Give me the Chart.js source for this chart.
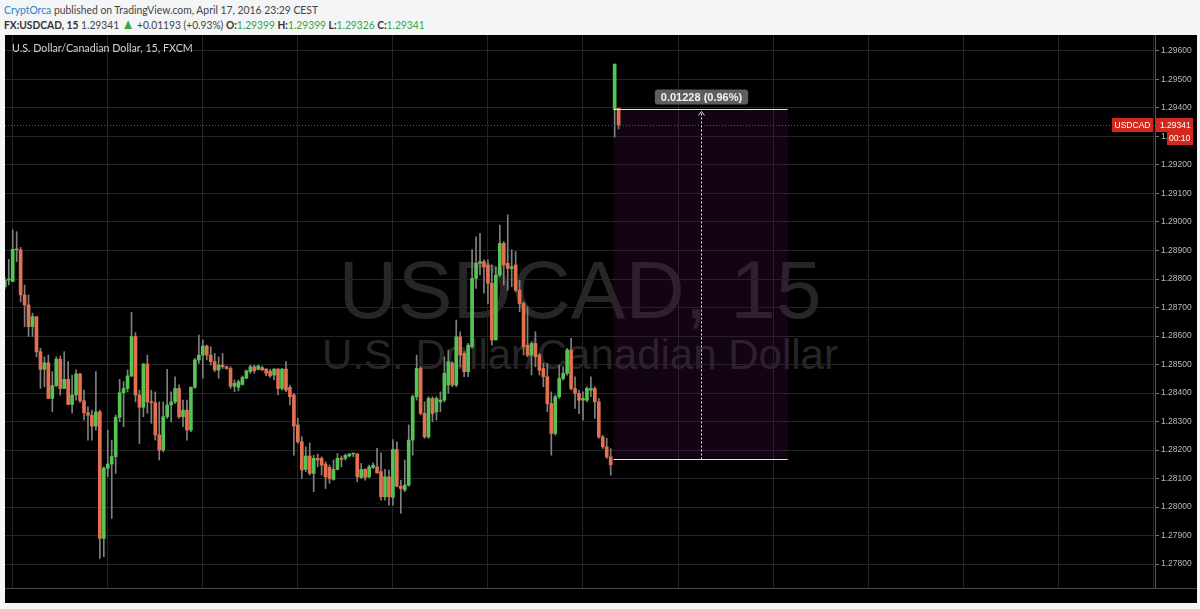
<!DOCTYPE html>
<html>
<head>
<meta charset="utf-8">
<script src="https://cdn.jsdelivr.net/npm/chart.js@4.4.1/dist/chart.umd.min.js"></script>
<style>
  body { margin:0; width:1200px; height:609px; background:#f3f5f6; position:relative; overflow:hidden;
         font-family:Lato, "Liberation Sans", sans-serif; }
  .fit { position:absolute; white-space:nowrap; transform-origin:0 50%; }
  #l1 { left:4px; top:2px; font-size:12px; color:#444; }
  #l2 { left:4px; top:17px; font-size:12px; color:#444; }
  #l1 .user { color:#2a86c6; }
  #l2 b { color:#333; }
  .up { color:#3aa63f; }
  .tri { color:#3aa63f; font-size:15px; line-height:10px; }
  #panel { position:absolute; left:5px; top:35px; width:1192px; height:568px; background:#000; }
  #title { left:7px; top:5px; font-size:12px; color:#d2d2d2; }
  .wm { position:absolute; left:0; width:1150px; text-align:center; font-family:"Liberation Sans", Arial, sans-serif;
        color:#262626; white-space:nowrap; }
  #wm1 { top:214px; font-size:82px; line-height:82px; }
  #wm2 { top:299px; font-size:42px; line-height:42px; }
  canvas { position:absolute; left:0; top:0; }
</style>
</head>
<body>
<div id="l1" class="fit" data-w="314"><span class="user">CryptOrca</span> published on TradingView.com, April 17, 2016 23:29 CEST</div>
<div id="l2" class="fit" data-w="421"></div>
<div id="panel">
  <div id="wm1" class="wm">USDCAD, 15</div>
  <div id="wm2" class="wm">U.S. Dollar/Canadian Dollar</div>
  <canvas id="myChart" width="1192" height="568"></canvas>
  <div id="title" class="fit" data-w="181">U.S. Dollar/Canadian Dollar, 15, FXCM</div>
</div>
<script>
// USDCAD 15 min candles (last two are after the weekend gap)
let OPEN = [
  1.28773,1.28796,1.28791,1.28904,1.28902,1.28744,1.28709,1.28633,1.28668,1.28545,
  1.28483,1.28506,1.28381,1.28426,1.28519,1.28416,1.28448,1.28360,1.28393,1.28467,
  1.28373,1.28331,1.28322,1.28284,1.28334,1.27890,1.28136,1.28151,1.28177,1.28315,
  1.28401,1.28416,1.28460,1.28598,1.28393,1.28350,1.28502,1.28369,1.28366,1.28253,
  1.28200,1.28317,1.28358,1.28369,1.28416,1.28317,1.28340,1.28270,1.28420,1.28516,
  1.28533,1.28565,1.28533,1.28510,1.28481,1.28498,1.28492,1.28486,1.28424,1.28420,
  1.28430,1.28452,1.28475,1.28492,1.28483,1.28489,1.28484,1.28477,1.28463,1.28484,
  1.28416,1.28484,1.28420,1.28393,1.28288,1.28229,1.28132,1.28179,1.28118,1.28171,
  1.28171,1.28151,1.28139,1.28097,1.28132,1.28171,1.28171,1.28179,1.28186,1.28186,
  1.28104,1.28132,1.28106,1.28139,1.28141,1.28124,1.28036,1.28106,1.28034,1.28202,
  1.28073,1.28060,1.28077,1.28235,1.28387,1.28486,1.28329,1.28246,1.28381,1.28334,
  1.28369,1.28375,1.28428,1.28504,1.28428,1.28597,1.28539,1.28475,1.28562,1.28802,
  1.28855,1.28861,1.28849,1.28785,1.28586,1.28814,1.28925,1.28855,1.28837,1.28849,
  1.28761,1.28714,1.28568,1.28533,1.28574,1.28533,1.28486,1.28457,1.28363,1.28258,
  1.28387,1.28451,1.28469,1.28551,1.28416,1.28399,1.28375,1.28375,1.28410,1.28416,
  1.28369,1.28246,1.28211,1.28176,1.29397,1.29399
];
let HIGH = [
  1.28805,1.28869,1.28972,1.28966,1.28911,1.28779,1.28744,1.28680,1.28668,1.28557,
  1.28527,1.28533,1.28475,1.28527,1.28530,1.28545,1.28510,1.28463,1.28481,1.28469,
  1.28410,1.28352,1.28340,1.28475,1.28340,1.28141,1.28270,1.28235,1.28323,1.28448,
  1.28440,1.28481,1.28683,1.28612,1.28410,1.28504,1.28533,1.28410,1.28404,1.28369,
  1.28369,1.28483,1.28404,1.28457,1.28428,1.28375,1.28375,1.28422,1.28522,1.28603,
  1.28586,1.28568,1.28562,1.28539,1.28527,1.28539,1.28495,1.28492,1.28446,1.28446,
  1.28460,1.28481,1.28498,1.28498,1.28498,1.28495,1.28486,1.28483,1.28486,1.28486,
  1.28486,1.28510,1.28428,1.28399,1.28311,1.28247,1.28211,1.28225,1.28182,1.28186,
  1.28176,1.28159,1.28147,1.28165,1.28188,1.28179,1.28186,1.28188,1.28188,1.28188,
  1.28153,1.28135,1.28147,1.28155,1.28206,1.28190,1.28132,1.28130,1.28237,1.28229,
  1.28094,1.28165,1.28288,1.28393,1.28533,1.28492,1.28369,1.28387,1.28387,1.28387,
  1.28404,1.28527,1.28551,1.28510,1.28656,1.28615,1.28545,1.28574,1.28902,1.28948,
  1.28960,1.28867,1.28867,1.28849,1.28843,1.28989,1.28931,1.29025,1.28902,1.28896,
  1.28796,1.28720,1.28703,1.28580,1.28615,1.28539,1.28504,1.28504,1.28404,1.28393,
  1.28498,1.28492,1.28557,1.28592,1.28457,1.28410,1.28404,1.28422,1.28457,1.28422,
  1.28381,1.28252,1.28241,1.28205,1.29554,1.29399
];
let LOW = [
  1.28765,1.28779,1.28791,1.28861,1.28720,1.28633,1.28598,1.28598,1.28527,1.28416,
  1.28422,1.28381,1.28334,1.28422,1.28393,1.28416,1.28358,1.28329,1.28375,1.28366,
  1.28305,1.28235,1.28235,1.28270,1.27820,1.27826,1.28106,1.27960,1.28118,1.28299,
  1.28282,1.28404,1.28457,1.28369,1.28223,1.28317,1.28329,1.28294,1.28235,1.28165,
  1.28194,1.28311,1.28299,1.28363,1.28311,1.28282,1.28235,1.28264,1.28416,1.28504,
  1.28452,1.28516,1.28498,1.28475,1.28452,1.28486,1.28483,1.28416,1.28405,1.28408,
  1.28428,1.28450,1.28469,1.28469,1.28481,1.28478,1.28460,1.28455,1.28446,1.28393,
  1.28410,1.28405,1.28358,1.28182,1.28223,1.28100,1.28124,1.28112,1.28054,1.28141,
  1.28112,1.28065,1.28083,1.28094,1.28130,1.28141,1.28165,1.28176,1.28176,1.28089,
  1.28100,1.28094,1.28103,1.28135,1.28118,1.28024,1.28024,1.28007,1.28007,1.28071,
  1.27978,1.28054,1.28073,1.28182,1.28375,1.28323,1.28241,1.28241,1.28299,1.28305,
  1.28334,1.28369,1.28399,1.28422,1.28422,1.28492,1.28457,1.28457,1.28557,1.28767,
  1.28814,1.28750,1.28714,1.28568,1.28586,1.28808,1.28779,1.28761,1.28773,1.28755,
  1.28685,1.28533,1.28527,1.28463,1.28492,1.28463,1.28422,1.28334,1.28182,1.28252,
  1.28381,1.28445,1.28463,1.28410,1.28346,1.28328,1.28305,1.28369,1.28387,1.28311,
  1.28241,1.28205,1.28170,1.28112,1.29298,1.29326
];
let CLOSE = [
  1.28796,1.28800,1.28904,1.28902,1.28744,1.28709,1.28633,1.28668,1.28545,1.28483,
  1.28506,1.28381,1.28426,1.28519,1.28416,1.28448,1.28360,1.28393,1.28467,1.28373,
  1.28331,1.28322,1.28284,1.28334,1.27890,1.28136,1.28151,1.28177,1.28315,1.28401,
  1.28416,1.28460,1.28598,1.28393,1.28350,1.28502,1.28369,1.28366,1.28253,1.28200,
  1.28317,1.28358,1.28369,1.28416,1.28317,1.28340,1.28270,1.28420,1.28516,1.28533,
  1.28565,1.28533,1.28510,1.28481,1.28498,1.28492,1.28486,1.28424,1.28434,1.28440,
  1.28455,1.28478,1.28492,1.28478,1.28495,1.28481,1.28469,1.28460,1.28484,1.28416,
  1.28484,1.28410,1.28387,1.28284,1.28229,1.28130,1.28179,1.28118,1.28171,1.28165,
  1.28147,1.28106,1.28100,1.28132,1.28171,1.28167,1.28181,1.28186,1.28186,1.28106,
  1.28132,1.28104,1.28141,1.28147,1.28120,1.28036,1.28106,1.28036,1.28202,1.28073,
  1.28065,1.28077,1.28235,1.28387,1.28486,1.28329,1.28246,1.28381,1.28328,1.28381,
  1.28375,1.28469,1.28510,1.28428,1.28597,1.28533,1.28475,1.28568,1.28802,1.28855,
  1.28861,1.28843,1.28785,1.28586,1.28814,1.28925,1.28849,1.28837,1.28843,1.28761,
  1.28714,1.28562,1.28533,1.28574,1.28527,1.28480,1.28457,1.28363,1.28258,1.28387,
  1.28451,1.28469,1.28551,1.28416,1.28399,1.28375,1.28381,1.28416,1.28416,1.28369,
  1.28246,1.28211,1.28176,1.28148,1.29554,1.29341
];
let PREV_CLOSE = 1.28148;          // friday close, used for the change in the header
let PRICE_TICKS = [1.278,1.279,1.280,1.281,1.282,1.283,1.284,1.285,1.286,1.287,
                   1.288,1.289,1.290,1.291,1.292,1.293,1.294,1.295,1.296];
let GRID_AT = [14,38,62,86,110,134,158,182,206,230,254,278];  // 6h vertical grid, in bars
let MEASURE_X = [153.7, 197.7];
let MEASURE_TOP = 1.29397, MEASURE_BOTTOM = 1.28169;
let COUNTDOWN = '00:10';
let SYMBOL = 'USDCAD';

let UP = '#55c455', DOWN = '#e5704f', WICK = '#808080', RED = '#d2281e';
let last = CLOSE.length - 1;

// header line 2
let chg = CLOSE[last] - PREV_CLOSE;
let pct = chg / PREV_CLOSE * 100;
document.getElementById('l2').innerHTML =
  '<b>FX:USDCAD, 15</b> ' + CLOSE[last].toFixed(5) + ' <span class="tri">&#9650;</span> +' +
  chg.toFixed(5) + ' (+' + pct.toFixed(2) + '%) <b>O:</b><span class="up">' + OPEN[last].toFixed(5) +
  '</span> <b>H:</b><span class="up">' + HIGH[last].toFixed(5) + '</span> <b>L:</b><span class="up">' +
  LOW[last].toFixed(5) + '</span> <b>C:</b><span class="up">' + CLOSE[last].toFixed(5) + '</span>';

document.querySelectorAll('.fit').forEach(function(el){
  let w = +el.dataset.w;
  el.style.transform = 'scaleX(' + (w / el.offsetWidth) + ')';
});

let bodies = [], wicks = [], colors = [];
for (let i = 0; i < CLOSE.length; i++) {
  bodies.push({x: i, y: [OPEN[i], CLOSE[i]]});
  wicks.push({x: i, y: [LOW[i], HIGH[i]]});
  colors.push(CLOSE[i] >= OPEN[i] ? UP : DOWN);
}

function noPad(s) { s.paddingTop = 0; s.paddingBottom = 0; s.paddingLeft = 0; s.paddingRight = 0; }

let measurePlugin = {
  id: 'measure',
  beforeDatasetsDraw(chart) {
    let c = chart.ctx, x = chart.scales.x, y = chart.scales.y;
    let x1 = x.getPixelForValue(MEASURE_X[0]), x2 = x.getPixelForValue(MEASURE_X[1]);
    let yt = y.getPixelForValue(MEASURE_TOP), yb = y.getPixelForValue(MEASURE_BOTTOM);
    c.save();
    c.fillStyle = 'rgba(70,15,70,0.26)';
    c.fillRect(x1, yt, x2 - x1, yb - yt);
    c.restore();
  },
  afterDatasetsDraw(chart) {
    let c = chart.ctx, x = chart.scales.x, y = chart.scales.y, a = chart.chartArea;
    let x1 = x.getPixelForValue(MEASURE_X[0]), x2 = x.getPixelForValue(MEASURE_X[1]);
    let yt = Math.round(y.getPixelForValue(MEASURE_TOP)) + 0.5, yb = Math.round(y.getPixelForValue(MEASURE_BOTTOM)) + 0.5;
    let cx = Math.round((x1 + x2) / 2) + 0.5;
    c.save();
    // last price dotted line
    let yl = Math.round(y.getPixelForValue(CLOSE[last])) + 0.5;
    c.strokeStyle = RED; c.lineWidth = 1; c.setLineDash([1, 2]);
    c.beginPath(); c.moveTo(a.left, yl); c.lineTo(a.right, yl); c.stroke();
    // top / bottom lines
    c.setLineDash([]);
    c.strokeStyle = '#e4e4e4';
    c.beginPath(); c.moveTo(x1, yt); c.lineTo(x2, yt); c.moveTo(x1, yb); c.lineTo(x2, yb); c.stroke();
    // dashed arrow
    c.setLineDash([2, 2]);
    c.beginPath(); c.moveTo(cx, yb); c.lineTo(cx, yt + 2); c.stroke();
    c.setLineDash([]);
    c.beginPath(); c.moveTo(cx - 3, yt + 6); c.lineTo(cx, yt + 2); c.lineTo(cx + 3, yt + 6); c.stroke();
    // label
    let diff = MEASURE_TOP - MEASURE_BOTTOM;
    let txt = diff.toFixed(5) + ' (' + (diff / MEASURE_BOTTOM * 100).toFixed(2) + '%)';
    c.font = 'bold 11px "Liberation Sans", Arial';
    let tw = c.measureText(txt).width;
    let bw = tw + 12, bh = 15, bx = cx - bw / 2, by = yt - 5 - bh;
    c.fillStyle = '#5e5e5e';
    c.beginPath(); c.roundRect(bx, by, bw, bh, 3); c.fill();
    c.fillStyle = '#f2f2f2'; c.textAlign = 'center'; c.textBaseline = 'middle';
    c.fillText(txt, cx, by + bh / 2 + 0.5);
    c.restore();
  },
  afterDraw(chart) {
    let c = chart.ctx, y = chart.scales.y, a = chart.chartArea;
    let yl = Math.round(y.getPixelForValue(CLOSE[last]));
    c.save();
    c.font = '8.5px "Liberation Sans", Arial';
    c.textBaseline = 'middle';
    // symbol tag
    c.fillStyle = RED;
    c.fillRect(a.right - 43, yl - 7, 41, 14);
    c.fillRect(a.right + 1, yl - 7, 37, 14);
    c.fillRect(a.right + 12, yl + 7, 26, 13);
    c.fillStyle = '#fff';
    c.textAlign = 'center';
    c.fillText(SYMBOL, a.right - 22.5, yl + 0.5);
    c.textAlign = 'left';
    c.fillText(CLOSE[last].toFixed(5), a.right + 5, yl + 0.5);
    c.fillText(COUNTDOWN, a.right + 14, yl + 13.5);
    // bottom time strip border
    c.strokeStyle = '#4a4a4a'; c.lineWidth = 1;
    c.beginPath(); c.moveTo(0, a.bottom + 0.5); c.lineTo(chart.width, a.bottom + 0.5); c.stroke();
    c.restore();
  }
};

let ctx = document.getElementById('myChart');
let candles = new Chart(ctx, {
  type: 'bar',
  data: {
    datasets: [
      { data: bodies, backgroundColor: colors, barThickness: 3, minBarLength: 1, grouped: false, borderWidth: 0 },
      { data: wicks, backgroundColor: WICK, barThickness: 1, minBarLength: 1, grouped: false, borderWidth: 0 }
    ]
  },
  options: {
    responsive: false,
    animation: false,
    layout: { padding: { left: 0, right: 0, top: 0, bottom: 15 } },
    plugins: { legend: { display: false }, tooltip: { enabled: false } },
    scales: {
      x: {
        type: 'linear', min: 0.05, max: 290.45, offset: false,
        afterBuildTicks: function(s){ s.ticks = GRID_AT.map(function(v){ return {value: v}; }); },
        afterFit: function(s){ s.height = 0; noPad(s); },
        ticks: { display: false },
        grid: { color: '#242424', drawTicks: false },
        border: { display: false }
      },
      y: {
        position: 'right', min: 1.27716, max: 1.29656,
        afterBuildTicks: function(s){ s.ticks = PRICE_TICKS.map(function(v){ return {value: v}; }); },
        afterFit: function(s){ s.width = 42; noPad(s); },
        ticks: {
          color: '#b9b9b9', padding: 2,
          font: { size: 8.5, family: '"Liberation Sans", Arial' },
          callback: function(v){ return v.toFixed(5); }
        },
        grid: { color: '#242424', tickLength: 4, tickColor: '#777' },
        border: { color: '#555' }
      }
    }
  },
  plugins: [measurePlugin]
});
</script>
</body>
</html>
